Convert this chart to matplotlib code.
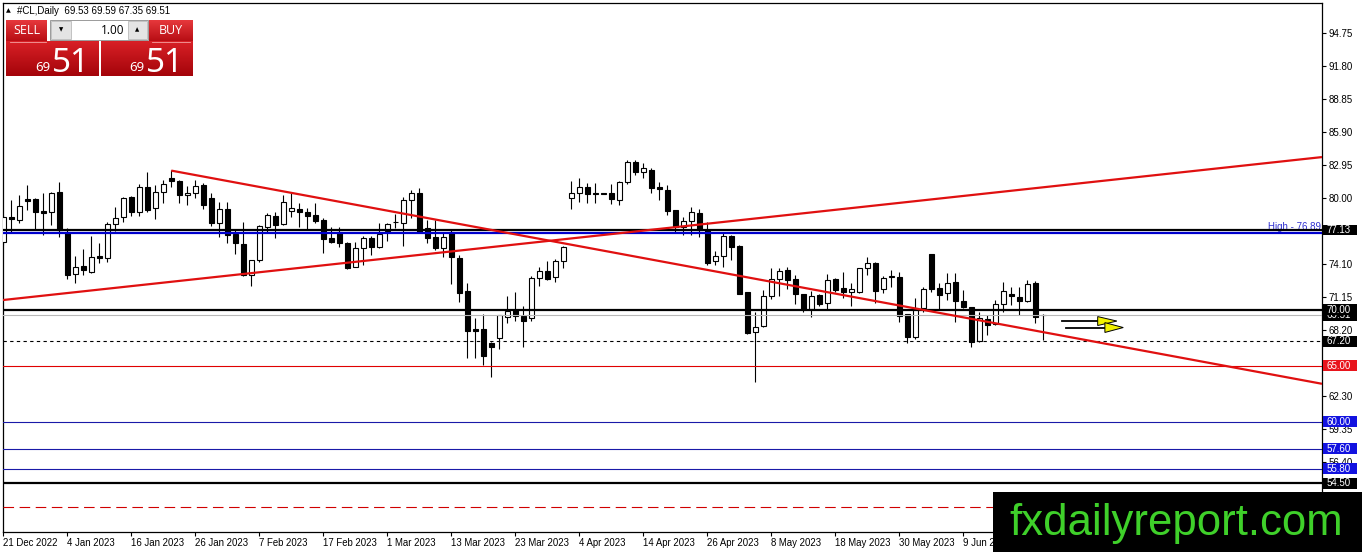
import matplotlib
matplotlib.use("Agg")
import matplotlib.pyplot as plt
import numpy as np
from matplotlib.patches import Rectangle, Polygon
from matplotlib.colors import LinearSegmentedColormap
from matplotlib.transforms import blended_transform_factory

plt.rcParams['font.family'] = ['Liberation Sans', 'DejaVu Sans']

# daily candles, 21 Dec 2022 .. 23 Jun 2023
opens = [76.09, 78.33, 78.03, 79.88, 79.88, 78.84, 78.72, 80.51, 76.99, 73.18,
         73.92, 73.41, 74.81, 74.66, 77.65, 78.27, 80.12, 78.77, 81.01, 79.08,
         80.51, 81.76, 81.55, 80.27, 80.42, 81.16, 79.97, 77.79, 78.99, 76.75,
         75.89, 73.12, 74.46, 77.43, 78.39, 77.65, 78.86, 78.99, 78.72, 78.48,
         78.03, 76.40, 76.93, 76.00, 73.86, 75.56, 76.40, 75.65, 77.05, 77.82,
         77.79, 79.82, 80.42, 77.29, 76.48, 75.56, 76.99, 74.61, 71.68, 68.26,
         68.29, 67.06, 67.46, 69.33, 69.96, 69.45, 69.30, 72.82, 73.50, 72.91,
         74.37, 80.03, 80.42, 80.96, 80.42, 80.42, 80.42, 79.82, 81.40, 83.19,
         82.30, 82.50, 80.96, 80.71, 78.93, 77.43, 77.94, 78.68, 77.14, 74.37,
         74.84, 76.60, 75.71, 71.57, 68.05, 68.58, 71.24, 72.76, 73.56, 72.73,
         71.42, 70.05, 71.33, 70.58, 72.73, 71.92, 71.62, 71.62, 73.71, 74.16,
         71.84, 72.98, 72.91, 69.63, 67.55, 70.14, 74.99, 71.92, 71.48, 72.46,
         70.82, 70.23, 67.24, 69.18, 68.73, 70.50, 71.42, 71.12, 70.82, 72.43,
         69.53]
highs = [78.48, 79.82, 80.27, 81.16, 80.00, 80.42, 80.51, 81.40, 77.29, 74.84,
         75.41, 76.63, 75.95, 77.88, 79.22, 80.12, 80.20, 81.25, 82.30, 81.16,
         81.61, 82.50, 81.60, 81.07, 81.61, 81.31, 80.47, 79.67, 79.67, 77.14,
         77.88, 74.50, 77.59, 78.63, 78.77, 80.27, 80.47, 79.52, 79.08, 79.52,
         78.18, 77.43, 77.43, 76.09, 76.09, 76.60, 76.60, 77.79, 77.74, 78.60,
         80.12, 80.71, 80.87, 78.03, 78.03, 76.99, 77.14, 74.90, 72.43, 69.30,
         69.63, 67.10, 69.54, 71.27, 71.62, 70.34, 73.03, 73.86, 74.37, 74.52,
         75.71, 81.55, 81.76, 81.31, 81.31, 80.47, 81.22, 81.55, 83.40, 83.40,
         83.10, 82.65, 81.40, 81.16, 78.93, 78.33, 79.17, 78.99, 77.88, 75.26,
         76.84, 76.69, 75.80, 71.62, 69.78, 71.77, 73.71, 73.77, 73.86, 73.12,
         71.42, 71.68, 71.42, 73.18, 72.87, 73.36, 72.43, 73.77, 74.70, 74.30,
         73.03, 73.56, 73.36, 69.63, 71.03, 72.07, 74.99, 72.37, 73.27, 73.32,
         71.77, 70.28, 69.83, 69.54, 70.88, 72.52, 72.07, 72.07, 72.67, 72.61,
         69.59]
lows = [75.80, 76.99, 77.74, 78.93, 77.14, 76.69, 77.58, 76.54, 72.73, 72.37,
        73.12, 73.30, 74.16, 74.30, 77.05, 77.88, 78.42, 78.42, 78.77, 78.10,
        79.58, 81.01, 79.58, 79.39, 79.97, 78.99, 77.50, 76.54, 76.00, 74.97,
        73.03, 72.16, 74.30, 76.99, 76.45, 77.58, 78.33, 77.43, 77.20, 77.79,
        75.05, 76.00, 75.65, 73.65, 73.80, 74.01, 74.90, 75.50, 76.15, 77.30,
        75.70, 78.18, 76.84, 76.00, 75.35, 74.70, 72.28, 70.73, 65.67, 65.67,
        65.07, 64.02, 66.50, 68.85, 69.03, 66.70, 69.03, 72.13, 72.67, 72.52,
        73.71, 78.99, 79.67, 79.58, 79.58, 80.33, 79.46, 79.37, 81.22, 82.06,
        81.76, 80.42, 79.82, 78.48, 76.99, 76.69, 76.69, 76.48, 74.01, 74.01,
        73.86, 74.46, 71.39, 67.84, 63.58, 68.44, 70.97, 71.26, 71.84, 70.52,
        69.78, 69.33, 70.34, 70.07, 71.62, 71.03, 70.37, 71.48, 73.12, 70.59,
        71.48, 72.07, 68.94, 67.01, 67.39, 69.83, 71.62, 69.99, 70.88, 68.94,
        70.14, 66.70, 67.15, 67.75, 68.64, 69.83, 70.43, 69.54, 70.73, 68.85,
        67.35]
closes = [78.33, 78.15, 79.28, 79.76, 78.77, 78.63, 80.42, 77.14, 73.12, 73.86,
          73.56, 74.75, 74.66, 77.67, 78.18, 79.97, 78.77, 80.96, 78.93, 80.51,
          81.22, 81.55, 80.27, 80.47, 81.07, 79.37, 77.74, 78.99, 76.69, 75.95,
          73.12, 74.46, 77.52, 78.48, 77.59, 79.67, 79.08, 78.77, 78.42, 77.94,
          76.31, 76.09, 76.00, 73.77, 75.56, 76.40, 75.65, 76.75, 77.65, 77.88,
          79.82, 80.42, 76.99, 76.40, 75.56, 76.54, 74.70, 71.48, 68.14, 68.14,
          65.90, 66.70, 69.54, 69.90, 69.48, 69.03, 72.87, 73.50, 72.73, 74.37,
          75.59, 80.42, 80.96, 80.33, 80.36, 80.40, 79.88, 81.40, 83.19, 82.35,
          82.65, 80.87, 80.78, 78.86, 77.43, 77.94, 78.72, 77.14, 74.21, 74.81,
          76.60, 75.65, 71.42, 67.96, 68.49, 71.27, 72.73, 73.47, 72.67, 71.39,
          70.05, 71.24, 70.50, 72.67, 71.77, 71.56, 71.86, 73.71, 74.16, 71.71,
          72.82, 73.05, 69.45, 67.55, 70.14, 71.84, 71.84, 71.33, 72.37, 70.79,
          70.28, 67.15, 69.24, 68.64, 70.50, 71.71, 71.24, 70.82, 72.28, 69.39,
          69.51]

date_labels = ['21 Dec 2022', '4 Jan 2023', '16 Jan 2023', '26 Jan 2023', '7 Feb 2023',
               '17 Feb 2023', '1 Mar 2023', '13 Mar 2023', '23 Mar 2023', '4 Apr 2023',
               '14 Apr 2023', '26 Apr 2023', '8 May 2023', '18 May 2023', '30 May 2023',
               '9 Jun 2023']
date_step = 8

price_ticks = [94.75, 91.80, 88.85, 85.90, 82.95, 80.00, 77.05, 74.10, 71.15,
               68.20, 65.25, 62.30, 59.35, 56.40, 53.45]
hidden_ticks = [77.05, 65.25, 53.45]   # covered by level boxes / watermark

# horizontal levels
high_level = 76.89
black_levels = [77.13, 70.00, 54.50]
blue_levels = [60.00, 57.60, 55.80]
red_level = 65.00
dashed_level = 67.20
red_dashed_level = 52.35
bid = 69.51

# trend lines: (bar, price) pairs
falling_line = [(21, 82.45), (164.84, 63.39)]
rising_line = [(-0.04, 70.88), (164.84, 83.66)]

header = '#CL,Daily  69.53 69.59 67.35 69.51'

W, H = 1362, 552
fig = plt.figure(figsize=(W / 100, H / 100), dpi=100)
fig.patch.set_facecolor('white')
ax = fig.add_axes([3 / W, (H - 532) / H, 1319 / W, 529.5 / H])
ax.set_xlim(-0.04, 164.84)
ax.set_ylim(50.14, 97.48)

o = np.array(opens)
h = np.array(highs)
l = np.array(lows)
c = np.array(closes)
idx = np.arange(len(o))
bull = c >= o

ax.vlines(idx, l, h, color='black', lw=0.8, zorder=2)
body = np.maximum(np.abs(c - o), 0.03)
ax.bar(idx, body, bottom=np.minimum(o, c), width=0.62,
       color=np.where(bull, 'white', 'black'), edgecolor='black', lw=0.8, zorder=3)

# levels
for lv in black_levels:
    ax.axhline(lv, color='black', lw=1.6, zorder=4)
ax.axhline(high_level, color='#0000cc', lw=1.6, zorder=4)
for lv in blue_levels:
    ax.axhline(lv, color='#1a1aa8', lw=0.8, zorder=4)
ax.axhline(red_level, color='#e00000', lw=0.8, zorder=4)
ax.axhline(bid, color='#b8b8b8', lw=0.8, zorder=4)
ax.axhline(dashed_level, color='black', lw=0.8, dashes=(3, 3), zorder=4)
ax.axhline(red_dashed_level, color='#d00000', lw=0.8, dashes=(9.5, 5), zorder=4)

for line in (falling_line, rising_line):
    xs, ys = zip(*line)
    ax.plot(xs, ys, color='#e01010', lw=1.6, zorder=5, solid_capstyle='butt')

ax.text(164.7, high_level + 0.05, 'High - 76.89', color='#3030d0', fontsize=7,
        ha='right', va='bottom', zorder=3)

# arrows
for (x0, xb, xt, py, half) in [(132.3, 136.8, 139.2, 69.00, 0.40),
                                (132.9, 137.7, 140.0, 68.42, 0.44)]:
    ax.plot([x0, xb + 0.3], [py, py], color='black', lw=1.3, zorder=6)
    ax.add_patch(Polygon([(xb, py + half), (xt, py), (xb, py - half)], closed=True,
                         fc='#f2f200', ec='black', lw=0.7, zorder=7))

# axes styling
for s in ax.spines.values():
    s.set_color('black')
    s.set_linewidth(0.9)
ax.yaxis.tick_right()
ax.set_yticks(price_ticks)
ax.set_yticklabels(['' if p in hidden_ticks else f'{p:.2f}' for p in price_ticks])
ax.tick_params(axis='y', right=True, left=False, length=3, width=0.8, pad=1.5,
               labelsize=7, colors='black')
ax.set_xticks(range(0, date_step * len(date_labels), date_step))
ax.set_xticklabels(date_labels)
for t in ax.get_xticklabels():
    t.set_horizontalalignment('left')
ax.tick_params(axis='x', length=3, width=0.8, pad=1.5, labelsize=6.9)

# price boxes on the right scale
trans = blended_transform_factory(ax.transAxes, ax.transData)
boxes = [(bid, 'black'), (77.13, 'black'), (70.00, 'black'), (67.20, 'black'),
         (65.00, '#e8141c'), (60.00, '#1212e0'), (57.60, '#1212e0'),
         (55.80, '#1212e0'), (54.50, 'black')]
for k, (p, fc) in enumerate(boxes):
    ax.add_patch(Rectangle((1.0008, p - 0.48), 0.0255, 0.96, transform=trans,
                           fc=fc, ec='none', clip_on=False, zorder=8 + k * 0.01))
    ax.text(1.0031, p, f'{p:.2f}', color='white', fontsize=7, ha='left', va='center',
            transform=trans, clip_on=False, zorder=8.005 + k * 0.01)

# overlay in pixel coordinates: header, trade panel, watermark
ov = fig.add_axes([0, 0, 1, 1], zorder=10)
ov.patch.set_alpha(0)
ov.axis('off')


def grad_box(x0, y0, x1, y1, top, bottom):
    cm = LinearSegmentedColormap.from_list('g', [top, bottom])
    ov.imshow(np.linspace(0, 1, 40).reshape(-1, 1), cmap=cm, extent=(x0, x1, y1, y0),
              aspect='auto', interpolation='bilinear', zorder=1)


ov.text(6, 10.5, '▲', fontsize=4.5, family='DejaVu Sans', va='center', ha='left')
ov.text(17, 10.5, header, fontsize=7, va='center', ha='left')

grad_box(6, 20, 47, 41, '#e6383c', '#b80e14')
grad_box(149, 20, 193, 41, '#e6383c', '#b80e14')
grad_box(6, 41.5, 99, 76, '#d82026', '#a4040a')
grad_box(101, 41.5, 193, 76, '#d82026', '#a4040a')
ov.plot([10, 46], [41.5, 41.5], color='#f3a0a0', lw=0.6, zorder=2)
ov.plot([152, 190], [41.5, 41.5], color='#f3a0a0', lw=0.6, zorder=2)
ov.add_patch(Rectangle((50, 20), 98, 20, fc='white', ec='#9a9a9a', lw=0.7, zorder=2))
ov.add_patch(Rectangle((51, 21), 20, 18, fc='#e4e4e4', ec='#b0b0b0', lw=0.5, zorder=3))
ov.add_patch(Rectangle((128, 21), 19, 18, fc='#e4e4e4', ec='#b0b0b0', lw=0.5, zorder=3))
ov.text(61, 30, '▼', fontsize=4, family='DejaVu Sans', ha='center', va='center', zorder=4)
ov.text(137.5, 30, '▲', fontsize=4, family='DejaVu Sans', ha='center', va='center', zorder=4)
ov.text(124, 30, '1.00', fontsize=8.5, family='Open Sans', ha='right', va='center', zorder=4)
ov.text(26.5, 30.5, 'SELL', fontsize=9, family='Open Sans', color='white',
        ha='center', va='center', zorder=4)
ov.text(171, 30.5, 'BUY', fontsize=9, family='Open Sans', color='white',
        ha='center', va='center', zorder=4)
for x69, x51 in [(35, 51.5), (129, 145.5)]:
    ov.text(x69, 71, '69', fontsize=9.5, family='Noto Sans', weight='bold', color='white',
            ha='left', va='baseline', zorder=4)
    ov.text(x51, 71.5, '51', fontsize=24, family='Noto Sans', color='white',
            ha='left', va='baseline', zorder=4)

ov.add_patch(Rectangle((993, 492), W - 993, H - 492, fc='black', ec='none', zorder=5))
ov.text(1009, 535, 'fxdailyreport.com', fontsize=31.5, family='Liberation Sans',
        color='#3fd02a', ha='left', va='baseline', zorder=6)

ov.set_xlim(0, W)
ov.set_ylim(H, 0)

fig.savefig('out.png', dpi=100, facecolor='white')
